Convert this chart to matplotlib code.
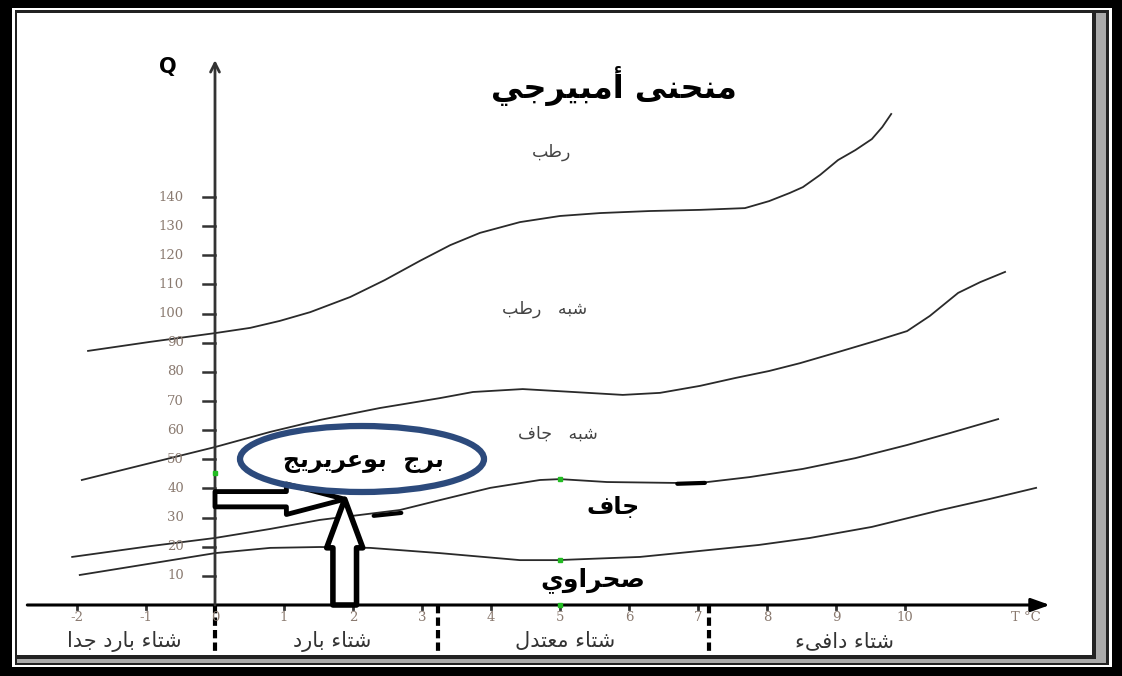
import matplotlib
matplotlib.use("Agg")
import matplotlib.pyplot as plt
from matplotlib.patches import Rectangle, Ellipse
from matplotlib.transforms import Affine2D

# Emberger climagram: Q (pluviothermic quotient) vs T (mean min of coldest month)

# zone boundaries (T in degC, Q)
humid_T = [-1.84, -0.94, 0, 0.51, 0.94, 1.38, 1.96, 2.46, 2.97, 3.41, 3.84, 4.42, 5.00,
           5.58, 6.30, 7.03, 7.68, 8.03, 8.33, 8.52, 8.77, 9.03, 9.28, 9.52, 9.67, 9.80]
humid_Q = [87.2, 90.3, 93.3, 95.1, 97.5, 100.5, 105.7, 111.5, 118.1, 123.5, 127.7, 131.4, 133.5,
           134.5, 135.2, 135.6, 136.2, 138.6, 141.4, 143.4, 147.6, 152.7, 156.1, 159.9, 164.0, 168.5]

subhumid_T = [-1.93, -0.94, 0, 0.80, 1.52, 2.39, 3.26, 3.74, 4.46, 5.19, 5.91, 6.45, 7.03,
              7.54, 8.03, 8.48, 9.03, 9.57, 10.03, 10.36, 10.77, 11.09, 11.45]
subhumid_Q = [42.9, 48.7, 54.2, 59.4, 63.5, 67.6, 71.0, 73.1, 74.1, 73.1, 72.1, 72.8, 75.2,
              77.9, 80.3, 83.0, 86.8, 90.6, 94.0, 99.2, 107.1, 110.8, 114.3]

semiarid_T = [-2.07, -0.94, 0, 0.80, 1.52, 2.10, 2.68, 3.26, 3.99, 4.71, 5.00, 5.68, 6.64,
              7.03, 7.75, 8.52, 9.28, 10.03, 10.65, 11.35]
semiarid_Q = [16.5, 20.2, 23.0, 26.1, 29.2, 30.9, 32.6, 36.0, 40.2, 42.9, 43.2, 42.2, 41.9,
              41.9, 43.9, 46.7, 50.4, 54.9, 59.0, 63.8]

arid_T = [-1.96, -0.94, 0, 0.80, 1.52, 2.25, 3.26, 4.42, 4.96, 6.16, 6.88, 7.88, 8.62,
          9.52, 10.52, 11.23, 11.90]
arid_Q = [10.3, 14.2, 17.8, 19.6, 19.9, 19.6, 17.8, 15.4, 15.4, 16.5, 18.2, 20.6, 23.0,
          26.8, 32.6, 36.4, 40.2]

# short ink smudges on the semi-arid line
smudges = [([2.30, 2.70], [30.6, 31.6]), ([6.70, 7.10], [41.6, 41.9])]

# station: Bordj Bou Arreridj
station_T = 1.88
station_Q = 36.3

y_ticks = [10, 20, 30, 40, 50, 60, 70, 80, 90, 100, 110, 120, 130, 140]
x_ticks = [-2, -1, 0, 1, 2, 3, 4, 5, 6, 7, 8, 9, 10]
winter_limits = [0, 3.23, 7.16]
green_T = [0, 5, 5, 5]
green_Q = [45.3, 43.2, 15.4, 0]

# basic Arabic shaping (presentation forms, right-to-left)
FORMS = {
    'ء': ('\ufe80',),
    'أ': ('\ufe83', '\ufe84'),
    'ا': ('\ufe8d', '\ufe8e'),
    'ب': ('\ufe8f', '\ufe90', '\ufe91', '\ufe92'),
    'ت': ('\ufe95', '\ufe96', '\ufe97', '\ufe98'),
    'ج': ('\ufe9d', '\ufe9e', '\ufe9f', '\ufea0'),
    'ح': ('\ufea1', '\ufea2', '\ufea3', '\ufea4'),
    'د': ('\ufea9', '\ufeaa'),
    'ر': ('\ufead', '\ufeae'),
    'ش': ('\ufeb5', '\ufeb6', '\ufeb7', '\ufeb8'),
    'ص': ('\ufeb9', '\ufeba', '\ufebb', '\ufebc'),
    'ط': ('\ufec1', '\ufec2', '\ufec3', '\ufec4'),
    'ع': ('\ufec9', '\ufeca', '\ufecb', '\ufecc'),
    'ف': ('\ufed1', '\ufed2', '\ufed3', '\ufed4'),
    'ل': ('\ufedd', '\ufede', '\ufedf', '\ufee0'),
    'م': ('\ufee1', '\ufee2', '\ufee3', '\ufee4'),
    'ن': ('\ufee5', '\ufee6', '\ufee7', '\ufee8'),
    'ه': ('\ufee9', '\ufeea', '\ufeeb', '\ufeec'),
    'و': ('\ufeed', '\ufeee'),
    'ى': ('\ufeef', '\ufef0'),
    'ي': ('\ufef1', '\ufef2', '\ufef3', '\ufef4'),
}


def ar(s):
    out = []
    for i, c in enumerate(s):
        f = FORMS.get(c)
        if f is None:
            out.append(c)
            continue
        p = s[i - 1] if i > 0 else ''
        n = s[i + 1] if i + 1 < len(s) else ''
        jp = len(FORMS.get(p, ())) == 4 and len(f) > 1
        jn = len(f) == 4 and len(FORMS.get(n, ())) > 1
        out.append(f[(2 if jn else 0) + (1 if jp else 0)])
    return ''.join(reversed(out))


W, H = 1122, 676
X0, SX = 215, 69.0
Y0, SY = 605, 2.914

fig = plt.figure(figsize=(W / 100, H / 100), dpi=100, facecolor='white')
ax = fig.add_axes([0, 0, 1, 1])
ax.set_xlim(-X0 / SX, (W - X0) / SX)
ax.set_ylim((Y0 - H) / SY, Y0 / SY)
ax.axis('off')
pix = Affine2D().scale(1 / W, -1 / H).translate(0, 1) + fig.transFigure

# curves
for t, q in [(humid_T, humid_Q), (subhumid_T, subhumid_Q),
             (semiarid_T, semiarid_Q), (arid_T, arid_Q)]:
    ax.plot(t, q, color='#2a2a2a', lw=1.3, zorder=2, solid_joinstyle='round')
for t, q in smudges:
    ax.plot(t, q, color='black', lw=3, zorder=2, solid_capstyle='round')

# axes with arrows
ax.annotate('', xy=(12.1, 0), xytext=(-2.72, 0),
            arrowprops=dict(arrowstyle='-|>,head_width=0.25,head_length=0.7', lw=2.2,
                            color='black', mutation_scale=16, shrinkA=0, shrinkB=0))
ax.annotate('', xy=(0, 187), xytext=(0, 0),
            arrowprops=dict(arrowstyle='->', lw=2.0, color='#333333',
                            mutation_scale=16, shrinkA=0, shrinkB=0))

tick_font = dict(family='DejaVu Serif', fontsize=9.5, color='#8a7a70')
for v in y_ticks:
    ax.plot([-0.17, 0], [v, v], color='#333333', lw=1.8)
    ax.text(-0.45, v, str(v), ha='right', va='center', **tick_font)
for v in x_ticks:
    ax.plot([v, v], [0, -1.4], color='#333333', lw=2)
    ax.text(v, -4.2, str(v), ha='center', va='center', **tick_font)
ax.text(11.75, -4.2, 'T °C', ha='center', va='center', **tick_font)

for v in winter_limits:
    ax.plot([v, v], [0, -17.5], color='black', lw=3, ls=(0, (2, 1)))

ax.plot(green_T, green_Q, ls='none', marker='s', ms=3.5, color='#22bb22', zorder=3)

# station arrows (hollow)
ax.annotate('', xy=(station_T, station_Q), xytext=(0, station_Q),
            arrowprops=dict(arrowstyle='simple,head_length=4.2,head_width=2.2,tail_width=1.1',
                            fc='white', ec='black', lw=3.5, mutation_scale=10,
                            shrinkA=0, shrinkB=0), zorder=4)
ax.annotate('', xy=(station_T, station_Q), xytext=(station_T, 0),
            arrowprops=dict(arrowstyle='simple,head_length=3.5,head_width=2.6,tail_width=1.7',
                            fc='white', ec='black', lw=4, mutation_scale=10,
                            shrinkA=0, shrinkB=0), zorder=4)

ax.add_patch(Ellipse((362, 459), 244, 66, transform=pix, fill=False,
                     ec='#2c4a7c', lw=4.5, zorder=5))
ax.text(363, 461, ar('برج  بوعريريج'), transform=pix, ha='center', va='center',
        fontsize=17, fontweight='bold', color='black', zorder=6)

# texts
ax.text(168, 67, 'Q', transform=pix, ha='center', va='center',
        fontsize=15, fontweight='bold', color='black')
ax.text(614, 86, ar('منحنى أمبيرجي'), transform=pix, ha='center', va='center',
        fontsize=23, fontweight='bold', color='black')
zone = dict(transform=pix, ha='center', va='center', fontsize=12.5, color='#444444')
ax.text(552, 152, ar('رطب'), **zone)
ax.text(545, 309, ar('شبه   رطب'), **zone)
ax.text(558, 434, ar('شبه   جاف'), **zone)
ax.text(613, 507, ar('جاف'), transform=pix, ha='center', va='center',
        fontsize=17, fontweight='bold', color='black')
ax.text(593, 580, ar('صحراوي'), transform=pix, ha='center', va='center',
        fontsize=18, fontweight='bold', color='black')

season = dict(transform=pix, va='center', fontsize=15, color='#333333')
ax.text(182, 641, ar('شتاء بارد جدا'), ha='right', **season)
ax.text(332, 641, ar('شتاء بارد'), ha='center', **season)
ax.text(565, 641, ar('شتاء معتدل'), ha='center', **season)
ax.text(845, 641, ar('شتاء دافىء'), ha='center', **season)

# picture frame
frame = [
    (0, 0, W, 8, 'black'), (0, 0, 12, H, 'black'),
    (1112, 0, 10, H, 'black'), (0, 667, W, 9, 'black'),
    (12, 8, 1100, 2, 'white'), (12, 8, 3, 659, 'white'),
    (1109, 8, 3, 659, 'white'), (12, 665, 1100, 2, 'white'),
    (15, 10, 1094, 3, '#222222'), (15, 10, 2, 655, '#222222'),
    (1092, 10, 17, 655, '#222222'), (15, 655, 1094, 10, '#222222'),
    (1096, 13, 10, 648, '#aaaaaa'), (17, 659, 1089, 4, '#aaaaaa'),
]
for x, y, w, h, c in frame:
    ax.add_patch(Rectangle((x, y), w, h, transform=pix, fc=c, ec='none', zorder=20))

fig.savefig('out.png', dpi=100, facecolor='white')
